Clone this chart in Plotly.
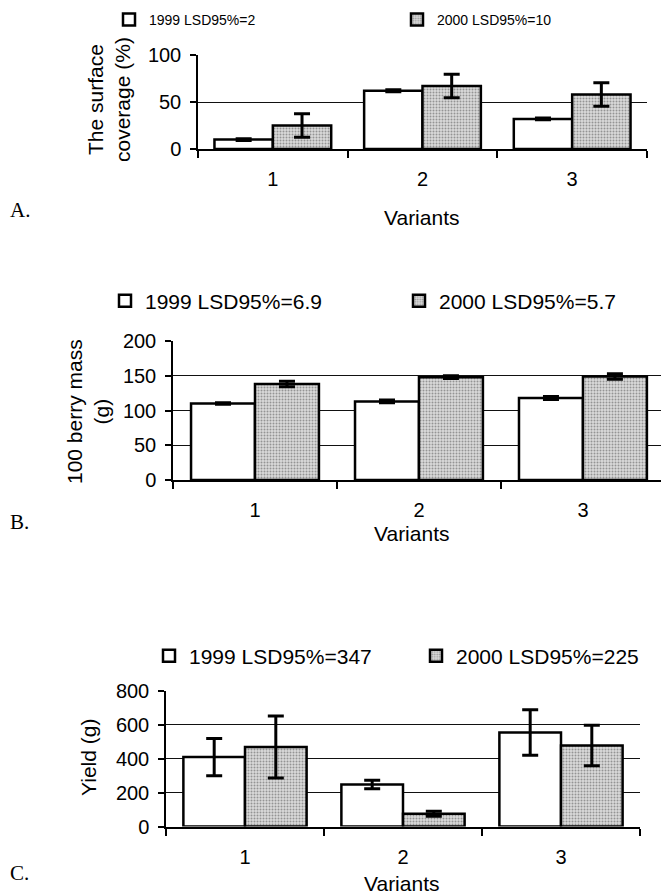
import plotly.graph_objects as go

W, H = 661, 894

variants = ["1", "2", "3"]

# Panel A: surface coverage (%)
a_1999 = [10, 62, 32]
a_1999_err = [1, 1, 1]
a_2000 = [25, 67, 58]
a_2000_err = [12.5, 12.5, 12.5]

# Panel B: 100 berry mass (g)
b_1999 = [110, 113, 118]
b_1999_err = [1, 2, 2]
b_2000 = [138, 148, 149]
b_2000_err = [4, 2, 4]

# Panel C: yield (g)
c_1999 = [410, 248, 555]
c_1999_err = [110, 25, 135]
c_2000 = [470, 75, 478]
c_2000_err = [183, 15, 120]

legend_a = ["1999 LSD95%=2", "2000 LSD95%=10"]
legend_b = ["1999 LSD95%=6.9", "2000 LSD95%=5.7"]
legend_c = ["1999 LSD95%=347", "2000 LSD95%=225"]

ytitle_a = "The surface<br>coverage (%)"
ytitle_b = "100 berry mass<br>(g)"
ytitle_c = "Yield (g)"
xtitle = "Variants"
panel_labels = ["A.", "B.", "C."]

FONT = "Liberation Sans, Arial, sans-serif"


def px_x(p):
    return p / W


def px_y(p):
    return 1 - p / H


fig = go.Figure()

pattern = dict(shape=".", fgcolor="#4d4d4d", bgcolor="#dadada", size=3, solidity=0.35)

panels = [
    (a_1999, a_1999_err, a_2000, a_2000_err, legend_a, ("legend", "legend2"), "x", "y"),
    (b_1999, b_1999_err, b_2000, b_2000_err, legend_b, ("legend3", "legend4"), "x2", "y2"),
    (c_1999, c_1999_err, c_2000, c_2000_err, legend_c, ("legend5", "legend6"), "x3", "y3"),
]

for v99, e99, v00, e00, names, lgs, xa, ya in panels:
    fig.add_trace(go.Bar(
        x=variants, y=v99, name=names[0], legend=lgs[0], xaxis=xa, yaxis=ya,
        showlegend=True,
        marker=dict(color="white", line=dict(color="black", width=2.5)),
        error_y=dict(type="data", array=e99, color="black", thickness=3, width=8),
    ))
    fig.add_trace(go.Bar(
        x=variants, y=v00, name=names[1], legend=lgs[1], xaxis=xa, yaxis=ya,
        showlegend=True,
        marker=dict(color="#dadada", pattern=pattern, line=dict(color="black", width=2.5)),
        error_y=dict(type="data", array=e00, color="black", thickness=3, width=8),
    ))

tickfont = dict(family=FONT, size=20, color="black")


def xaxis(dom, rng, anchor):
    return dict(domain=dom, range=rng, anchor=anchor, type="category",
                showline=True, linecolor="black", linewidth=2,
                ticks="outside", tickson="boundaries", ticklen=7, tickwidth=1.5,
                tickcolor="black", showgrid=False, tickfont=tickfont,
                ticklabelstandoff=11)


def yaxis(dom, rng, dtick, anchor):
    return dict(domain=dom, range=rng, dtick=dtick, anchor=anchor,
                showline=True, linecolor="black", linewidth=1.5,
                ticks="outside", ticklen=6, tickwidth=1.5, tickcolor="black",
                showgrid=True, gridcolor="#111", gridwidth=1.3, zeroline=False,
                tickfont=tickfont, ticklabelstandoff=5)


layout = dict(
    width=W, height=H, margin=dict(l=0, r=0, t=0, b=0, autoexpand=False),
    paper_bgcolor="white", plot_bgcolor="white", showlegend=True,
    barmode="group", bargap=0.22, bargroupgap=0,
    font=dict(family=FONT, size=20, color="black"),
    xaxis=xaxis([px_x(198), px_x(647)], [-0.5, 2.5], "y"),
    yaxis=yaxis([px_y(149), px_y(55)], [0, 100], 50, "x"),
    xaxis2=xaxis([px_x(173), 1.0], [-0.5, 2.476], "y2"),
    yaxis2=yaxis([px_y(480), px_y(341)], [0, 200], 50, "x2"),
    xaxis3=xaxis([px_x(166), px_x(640)], [-0.5, 2.5], "y3"),
    yaxis3=yaxis([px_y(826.5), px_y(691)], [0, 800], 200, "x3"),
)


def legend(text_x, yp, size):
    return dict(orientation="h", x=px_x(text_x - 40), y=px_y(yp), xanchor="left", yanchor="middle",
                font=dict(family=FONT, size=size, color="black"), visible=True,
                bgcolor="rgba(0,0,0,0)", borderwidth=0, itemclick=False)


layout["legend"] = legend(149, 20, 14)
layout["legend2"] = legend(437, 20, 14)
layout["legend3"] = legend(145, 301, 21)
layout["legend4"] = legend(439, 301, 21)
layout["legend5"] = legend(189, 656, 21)
layout["legend6"] = legend(456, 656, 21)

fig.update_layout(**layout)

ann = []
for xc, yc in [(421, 217), (411, 533), (401, 883)]:
    ann.append(dict(text=xtitle, x=px_x(xc), y=px_y(yc), xref="paper", yref="paper",
                    showarrow=False, xanchor="center", yanchor="middle",
                    font=dict(family=FONT, size=21)))
for txt, xc, yc in [(ytitle_a, 109, 100), (ytitle_b, 88, 412), (ytitle_c, 88, 758)]:
    ann.append(dict(text=txt, x=px_x(xc), y=px_y(yc), xref="paper", yref="paper",
                    showarrow=False, xanchor="center", yanchor="middle", textangle=-90,
                    font=dict(family=FONT, size=21)))
for txt, yc in zip(panel_labels, [210, 522, 873]):
    ann.append(dict(text=txt, x=px_x(8), y=px_y(yc), xref="paper", yref="paper",
                    showarrow=False, xanchor="left", yanchor="middle",
                    font=dict(family="Liberation Serif, Times New Roman, serif", size=21)))
fig.update_layout(annotations=ann)

fig.write_html("out.html", config={"displayModeBar": False},
               post_script="document.body.style.margin='0';document.body.style.overflow='hidden';")
